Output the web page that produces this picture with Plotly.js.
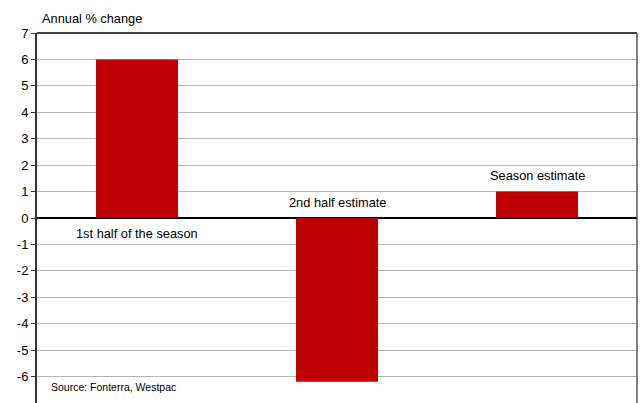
<!DOCTYPE html>
<html>
<head>
<meta charset="utf-8">
<script src="https://cdn.plot.ly/plotly-3.0.1.min.js"></script>
<style>html,body{margin:0;padding:0;background:#fff;}#chart{width:641px;height:403px;}</style>
</head>
<body>
<div id="chart"></div>
<script>
const categories = ["1st half of the season", "2nd half estimate", "Season estimate"];
const values = [6.0, -6.2, 1.0];
const labelY = [-0.58, 0.57, 1.62];
const yTicks = [-7, -6, -5, -4, -3, -2, -1, 0, 1, 2, 3, 4, 5, 6, 7];
const yTitle = "Annual % change";
const sourceText = "Source: Fonterra, Westpac";

const fam = "Liberation Sans, Arial, sans-serif";
const font = {family: fam, size: 12.8, color: "#000"};

const trace = {
  type: "bar",
  x: categories,
  y: values,
  marker: {color: "#C00000", line: {width: 0}},
  width: 0.41,
  hoverinfo: "skip"
};

const annotations = categories.map((c, i) => ({
  x: c, y: labelY[i], xref: "x", yref: "y",
  text: c, showarrow: false, xanchor: "center", yanchor: "middle",
  font: font
}));
annotations.push({
  xref: "paper", yref: "paper", x: 0.005, y: 1.0405,
  xanchor: "left", yanchor: "middle", text: yTitle, showarrow: false, font: font
});
annotations.push({
  xref: "paper", yref: "paper", x: 0.02, y: 0.043,
  xanchor: "left", yanchor: "middle", text: sourceText, showarrow: false,
  font: {family: fam, size: 10.5, color: "#000"}
});

const layout = {
  width: 641, height: 403,
  margin: {l: 37, r: 4, t: 33, b: 0},
  paper_bgcolor: "#fff", plot_bgcolor: "#fff",
  font: font,
  showlegend: false,
  xaxis: {
    type: "category", range: [-0.5, 2.5],
    showticklabels: false, showgrid: false, zeroline: false, showline: false, ticks: ""
  },
  yaxis: {
    range: [-7, 7], tickvals: yTicks, ticktext: yTicks.map(String),
    showgrid: true, gridcolor: "#b3b3b3", gridwidth: 1,
    zeroline: true, zerolinecolor: "#000", zerolinewidth: 1.5,
    showline: true, linecolor: "#333", linewidth: 2,
    ticks: "outside", ticklen: 4, tickcolor: "#333", tickwidth: 1,
    tickfont: {family: fam, size: 13, color: "#000"}
  },
  shapes: [
    {type: "line", xref: "paper", yref: "paper", x0: 0, x1: 1, y0: 1, y1: 1, line: {color: "#000", width: 1.5}},
    {type: "line", xref: "paper", yref: "paper", x0: 1, x1: 1, y0: 0, y1: 1, line: {color: "#555", width: 1.5}}
  ],
  annotations: annotations
};

Plotly.newPlot("chart", [trace], layout, {displayModeBar: false, staticPlot: true});
</script>
</body>
</html>
